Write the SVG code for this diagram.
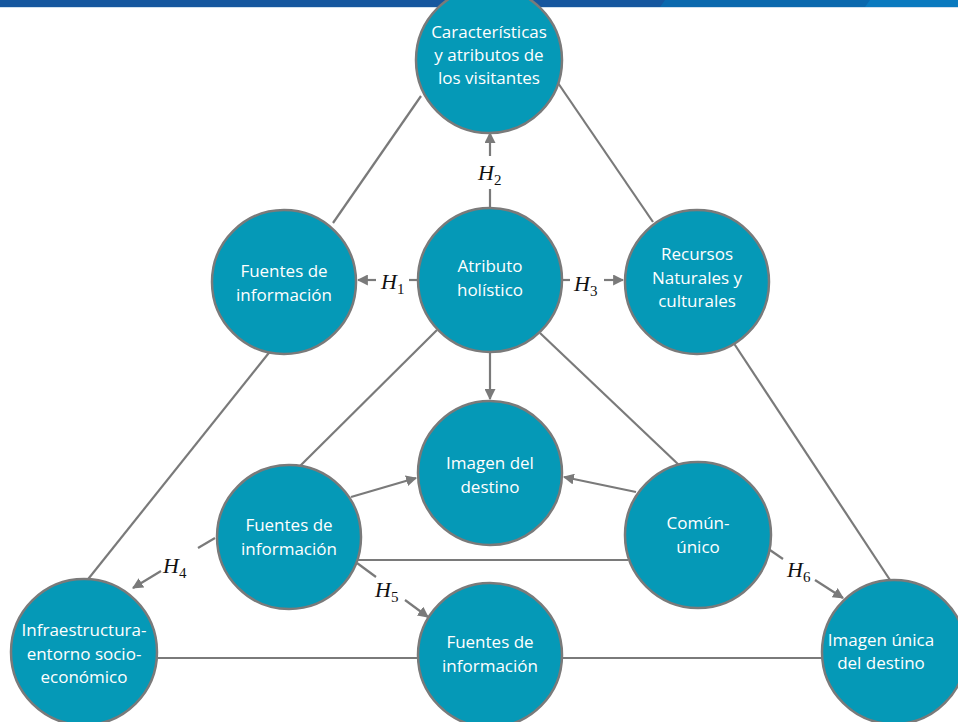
<svg xmlns="http://www.w3.org/2000/svg" width="958" height="722" viewBox="0 0 958 722">
<defs>
<style>
.node{fill:#0599b7;stroke:#7a7a7a;stroke-width:2.5}
.lbl{fill:#fff;font-family:"Open Sans","Noto Sans",sans-serif;font-size:17px;text-anchor:middle}
.ln{stroke:#7a7a7a;stroke-width:2.2;fill:none}
.ar{stroke:#7a7a7a;stroke-width:2.2;fill:none;marker-end:url(#ah)}
.h{font-family:"Liberation Serif",serif;font-style:italic;font-size:22px;fill:#111}
.sub{font-style:normal;font-size:15px}
</style>
<marker id="ah" viewBox="0 0 10 10" refX="9" refY="5" markerWidth="5" markerHeight="5" orient="auto" markerUnits="strokeWidth">
<path d="M0,0 L10,5 L0,10 z" fill="#7a7a7a"/>
</marker>
</defs>
<rect width="958" height="722" fill="#fff"/>
<g id="topbar">
<rect x="0" y="0" width="958" height="7" fill="#16579f"/>
<polygon points="665,0 958,0 958,7 660,7" fill="#0b69ae"/>
<polygon points="870,0 958,0 958,7 865,7" fill="#0a7abf"/>
<rect x="0" y="7" width="958" height="1" fill="#cfe0ef"/>
</g>
<g id="connectors">
<line class="ln" x1="421" y1="96" x2="333" y2="223"/>
<line class="ln" x1="558" y1="83" x2="653" y2="222"/>
<line class="ln" x1="276" y1="344" x2="85" y2="583"/>
<line class="ln" x1="733" y1="342" x2="892" y2="583"/>
<line class="ln" x1="437" y1="330" x2="300" y2="466"/>
<line class="ln" x1="540" y1="333" x2="680" y2="466"/>
<line class="ln" x1="357" y1="560" x2="628" y2="560"/>
<line class="ln" x1="157" y1="658" x2="418" y2="658"/>
<line class="ln" x1="562" y1="658" x2="823" y2="658"/>
<line class="ar" x1="490" y1="352" x2="490" y2="399"/>
<line class="ln" x1="490" y1="208" x2="490" y2="189"/>
<line class="ar" x1="490" y1="156" x2="490" y2="133"/>
<line class="ln" x1="418" y1="280" x2="409" y2="280"/>
<line class="ar" x1="376" y1="280" x2="358" y2="280"/>
<line class="ln" x1="562" y1="280" x2="570" y2="280"/>
<line class="ar" x1="604" y1="280" x2="623" y2="280"/>
<line class="ar" x1="351" y1="497" x2="416" y2="478"/>
<line class="ar" x1="636" y1="492" x2="564" y2="477"/>
<line class="ln" x1="215" y1="538" x2="198" y2="548"/>
<line class="ar" x1="161" y1="571" x2="133" y2="588"/>
<line class="ln" x1="357" y1="563" x2="376" y2="577"/>
<line class="ar" x1="405" y1="600" x2="428" y2="617"/>
<line class="ln" x1="767" y1="548" x2="783" y2="559"/>
<line class="ar" x1="815" y1="580" x2="843" y2="598"/>
</g>
<g id="labels">
<text class="h" x="478" y="180">H<tspan class="sub" dy="5">2</tspan></text>
<text class="h" x="381" y="289">H<tspan class="sub" dy="5">1</tspan></text>
<text class="h" x="574" y="291">H<tspan class="sub" dy="5">3</tspan></text>
<text class="h" x="163" y="573">H<tspan class="sub" dy="5">4</tspan></text>
<text class="h" x="375" y="597">H<tspan class="sub" dy="5">5</tspan></text>
<text class="h" x="787" y="577">H<tspan class="sub" dy="5">6</tspan></text>
</g>
<g id="n-caracteristicas">
<circle class="node" cx="489" cy="60" r="73"/>
<text class="lbl" x="489" y="38">Características</text>
<text class="lbl" x="489" y="61">y atributos de</text>
<text class="lbl" x="489" y="84">los visitantes</text>
</g>
<g id="n-holistico">
<circle class="node" cx="490" cy="280" r="72"/>
<text class="lbl" x="490" y="272">Atributo</text>
<text class="lbl" x="490" y="296">holístico</text>
</g>
<g id="n-fuentes1">
<circle class="node" cx="284" cy="282" r="72"/>
<text class="lbl" x="284" y="277">Fuentes de</text>
<text class="lbl" x="284" y="301">información</text>
</g>
<g id="n-recursos">
<circle class="node" cx="697" cy="282" r="72"/>
<text class="lbl" x="697" y="260">Recursos</text>
<text class="lbl" x="697" y="284">Naturales y</text>
<text class="lbl" x="697" y="307">culturales</text>
</g>
<g id="n-imagen">
<circle class="node" cx="490" cy="473" r="72"/>
<text class="lbl" x="490" y="469">Imagen del</text>
<text class="lbl" x="490" y="493">destino</text>
</g>
<g id="n-fuentes2">
<circle class="node" cx="289" cy="537" r="72"/>
<text class="lbl" x="289" y="531">Fuentes de</text>
<text class="lbl" x="289" y="555">información</text>
</g>
<g id="n-comun">
<circle class="node" cx="698" cy="535" r="73"/>
<text class="lbl" x="698" y="529">Común-</text>
<text class="lbl" x="698" y="553">único</text>
</g>
<g id="n-infra">
<circle class="node" cx="84" cy="652" r="73"/>
<text class="lbl" x="84" y="636">Infraestructura-</text>
<text class="lbl" x="84" y="660">entorno socio-</text>
<text class="lbl" x="84" y="683">económico</text>
</g>
<g id="n-fuentes3">
<circle class="node" cx="490" cy="655" r="72"/>
<text class="lbl" x="490" y="648">Fuentes de</text>
<text class="lbl" x="490" y="672">información</text>
</g>
<g id="n-unica">
<circle class="node" cx="894" cy="652" r="72"/>
<text class="lbl" x="881" y="646">Imagen única</text>
<text class="lbl" x="881" y="669">del destino</text>
</g>
</svg>
